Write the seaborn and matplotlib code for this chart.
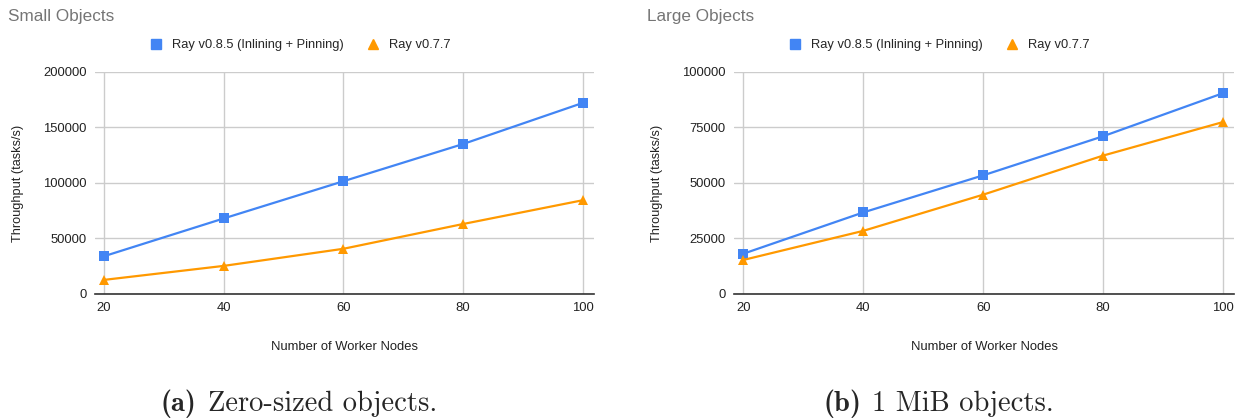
import numpy as np
import pandas as pd
import matplotlib.pyplot as plt
import seaborn as sns

nodes = [20, 40, 60, 80, 100]
small_new = [34000, 68000, 101500, 135000, 172000]
small_old = [12700, 25300, 40700, 63000, 84400]
large_new = [18100, 36700, 53400, 71000, 90400]
large_old = [15300, 28400, 44700, 62300, 77400]

new_label = 'Ray v0.8.5 (Inlining + Pinning)'
old_label = 'Ray v0.7.7'

sns.set_theme(style='white')
plt.rcParams['font.family'] = ['Liberation Sans', 'DejaVu Sans']

palette = {new_label: '#4285F4', old_label: '#FF9900'}
markers = {new_label: 's', old_label: '^'}


def make_df(new, old):
    return pd.DataFrame({
        'nodes': nodes * 2,
        'value': new + old,
        'series': [new_label] * len(nodes) + [old_label] * len(nodes),
    })


fig = plt.figure(figsize=(12.37, 4.2), dpi=100)
ax1 = fig.add_axes([0.0768, 0.30, 0.403, 0.529])
ax2 = fig.add_axes([0.5935, 0.30, 0.404, 0.529])

panels = [
    (ax1, make_df(small_new, small_old), 200000, 50000),
    (ax2, make_df(large_new, large_old), 100000, 25000),
]

for ax, df, ymax, step in panels:
    sns.lineplot(data=df, x='nodes', y='value', hue='series', style='series',
                 palette=palette, markers=markers, dashes=False, markersize=7.5,
                 markeredgewidth=0, linewidth=1.6, ax=ax, legend=False)
    ax.set_xlim(18.5, 101.8)
    ax.set_ylim(0, ymax)
    ax.set_xticks(nodes)
    ax.set_yticks(np.arange(0, ymax + 1, step))
    ax.grid(True, color='#cccccc', linewidth=1)
    ax.set_axisbelow(True)
    for s in ['top', 'right', 'left']:
        ax.spines[s].set_visible(False)
    ax.spines['bottom'].set_color('#333333')
    ax.spines['bottom'].set_linewidth(1.2)
    ax.tick_params(axis='both', length=0, labelsize=9.4, colors='#222222', pad=6)
    ax.set_xlabel('Number of Worker Nodes', fontsize=9.4, labelpad=19, color='#222222')
    ax.set_ylabel('Throughput (tasks/s)', fontsize=9.2, labelpad=14, color='#222222')

    # legend above each panel
    handles = [
        plt.Line2D([], [], marker='s', color=palette[new_label], linestyle='none', markersize=7),
        plt.Line2D([], [], marker='^', color=palette[old_label], linestyle='none', markersize=7.5),
    ]
    ax.legend(handles, [new_label, old_label], loc='center', bbox_to_anchor=(0.412, 1.12),
              ncol=2, frameon=False, fontsize=9.3, handletextpad=0.85, columnspacing=1.85,
              handlelength=0.8)

fig.text(8 / 1237, 1 - 17 / 420, 'Small Objects', fontsize=12.3, color='#757575', va='center')
fig.text(647 / 1237, 1 - 17 / 420, 'Large Objects', fontsize=12.3, color='#757575', va='center')

cap_y = 1 - 411 / 420
fig.text(196 / 1237, cap_y, '(a)', fontfamily='cmb10', fontsize=20.5, ha='right', va='baseline')
fig.text(208 / 1237, cap_y, 'Zero-sized objects.', fontfamily='cmr10', fontsize=20.5, ha='left', va='baseline')
fig.text(861 / 1237, cap_y, '(b)', fontfamily='cmb10', fontsize=20.5, ha='right', va='baseline')
fig.text(872 / 1237, cap_y, '1 MiB objects.', fontfamily='cmr10', fontsize=20.5, ha='left', va='baseline')

fig.savefig('out.png', dpi=100)
